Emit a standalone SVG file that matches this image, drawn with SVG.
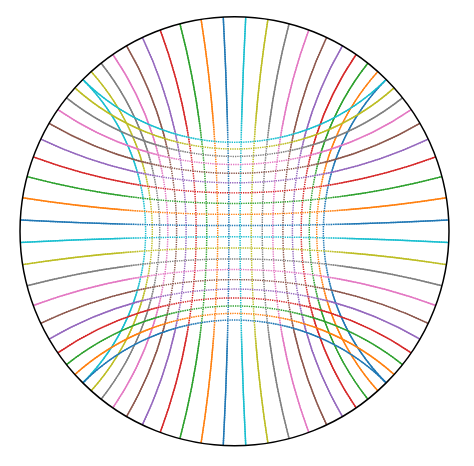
<svg xmlns="http://www.w3.org/2000/svg" width="474" height="466" viewBox="0 0 474 466">
<style>
.g path{fill:none;stroke-width:1.45}
.c0{stroke:#1f77b4}.c1{stroke:#ff7f0e}.c2{stroke:#2ca02c}.c3{stroke:#d62728}.c4{stroke:#9467bd}
.c5{stroke:#8c564b}.c6{stroke:#e377c2}.c7{stroke:#7f7f7f}.c8{stroke:#bcbd22}.c9{stroke:#17becf}
</style>
<defs>
<radialGradient id="rg" gradientUnits="userSpaceOnUse" cx="234.5" cy="231.2" r="214.5">
<stop offset="0.41" stop-color="#000"/>
<stop offset="0.56" stop-color="#fff"/>
</radialGradient>
<mask id="outer" maskUnits="userSpaceOnUse" x="0" y="0" width="474" height="466">
<rect width="474" height="466" fill="url(#rg)"/>
</mask>
<g id="grid" class="g">
<path class="c0" d="M223.25,16.99 A4082.9,4082.9 0 0 1 223.25,445.41"/>
<path class="c1" d="M201.08,19.32 A1359.9,1359.9 0 0 1 201.08,443.08"/>
<path class="c2" d="M179.89,23.77 A814.8,814.8 0 0 1 179.89,438.63"/>
<path class="c3" d="M160.21,29.98 A581,581 0 0 1 160.21,432.42"/>
<path class="c4" d="M142.38,37.49 A451.1,451.1 0 0 1 142.38,424.91"/>
<path class="c5" d="M126.57,45.83 A368.4,368.4 0 0 1 126.57,416.57"/>
<path class="c6" d="M112.85,54.53 A311.5,311.5 0 0 1 112.85,407.87"/>
<path class="c7" d="M101.12,63.22 A270.1,270.1 0 0 1 101.12,399.18"/>
<path class="c8" d="M91.18,71.61 A238.9,238.9 0 0 1 91.18,390.79"/>
<path class="c9" d="M82.83,79.53 A214.5,214.5 0 0 1 82.83,382.87"/>
<path class="c9" d="M245.75,16.99 A4082.9,4082.9 0 0 0 245.75,445.41"/>
<path class="c8" d="M267.92,19.32 A1359.9,1359.9 0 0 0 267.92,443.08"/>
<path class="c7" d="M289.11,23.77 A814.8,814.8 0 0 0 289.11,438.63"/>
<path class="c6" d="M308.79,29.98 A581,581 0 0 0 308.79,432.42"/>
<path class="c5" d="M326.62,37.49 A451.1,451.1 0 0 0 326.62,424.91"/>
<path class="c4" d="M342.43,45.83 A368.4,368.4 0 0 0 342.43,416.57"/>
<path class="c3" d="M356.15,54.53 A311.5,311.5 0 0 0 356.15,407.87"/>
<path class="c2" d="M367.88,63.22 A270.1,270.1 0 0 0 367.88,399.18"/>
<path class="c1" d="M377.82,71.61 A238.9,238.9 0 0 0 377.82,390.79"/>
<path class="c0" d="M386.17,79.53 A214.5,214.5 0 0 0 386.17,382.87"/>
<path class="c0" d="M20.29,219.95 A4082.9,4082.9 0 0 0 448.71,219.95"/>
<path class="c1" d="M22.62,197.78 A1359.9,1359.9 0 0 0 446.38,197.78"/>
<path class="c2" d="M27.07,176.59 A814.8,814.8 0 0 0 441.93,176.59"/>
<path class="c3" d="M33.28,156.91 A581,581 0 0 0 435.72,156.91"/>
<path class="c4" d="M40.79,139.08 A451.1,451.1 0 0 0 428.21,139.08"/>
<path class="c5" d="M49.13,123.27 A368.4,368.4 0 0 0 419.87,123.27"/>
<path class="c6" d="M57.83,109.55 A311.5,311.5 0 0 0 411.17,109.55"/>
<path class="c7" d="M66.52,97.82 A270.1,270.1 0 0 0 402.48,97.82"/>
<path class="c8" d="M74.91,87.88 A238.9,238.9 0 0 0 394.09,87.88"/>
<path class="c9" d="M82.83,79.53 A214.5,214.5 0 0 0 386.17,79.53"/>
<path class="c9" d="M20.29,242.45 A4082.9,4082.9 0 0 1 448.71,242.45"/>
<path class="c8" d="M22.62,264.62 A1359.9,1359.9 0 0 1 446.38,264.62"/>
<path class="c7" d="M27.07,285.81 A814.8,814.8 0 0 1 441.93,285.81"/>
<path class="c6" d="M33.28,305.49 A581,581 0 0 1 435.72,305.49"/>
<path class="c5" d="M40.79,323.32 A451.1,451.1 0 0 1 428.21,323.32"/>
<path class="c4" d="M49.13,339.13 A368.4,368.4 0 0 1 419.87,339.13"/>
<path class="c3" d="M57.83,352.85 A311.5,311.5 0 0 1 411.17,352.85"/>
<path class="c2" d="M66.52,364.58 A270.1,270.1 0 0 1 402.48,364.58"/>
<path class="c1" d="M74.91,374.52 A238.9,238.9 0 0 1 394.09,374.52"/>
<path class="c0" d="M82.83,382.87 A214.5,214.5 0 0 1 386.17,382.87"/>
</g>
</defs>
<rect width="474" height="466" fill="#fff"/>
<g id="dotted-lines" stroke-dasharray="1.3 1"><use href="#grid"/></g>
<g id="solid-lines" mask="url(#outer)"><use href="#grid"/></g>
<g id="boundary"><circle cx="234.5" cy="231.2" r="214.5" fill="none" stroke="#000" stroke-width="1.5"/></g>
</svg>
